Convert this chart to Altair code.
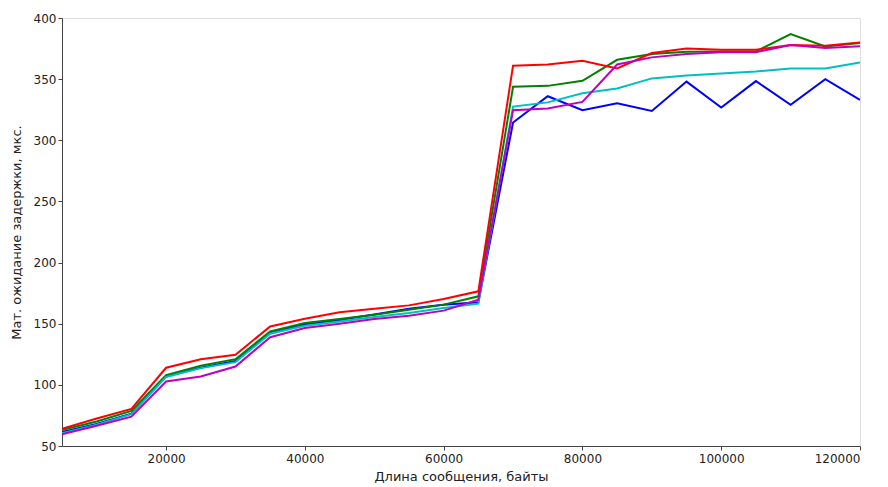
import altair as alt
import pandas as pd

x_values = [5000, 10000, 15000, 20000, 25000, 30000, 35000, 40000, 45000, 50000,
            55000, 60000, 65000, 70000, 75000, 80000, 85000, 90000, 95000, 100000,
            105000, 110000, 115000, 120000]

blue = [61.5, 68, 76.5, 107, 114, 119.5, 142.5, 149.5, 153, 157.6, 162.3, 165.6, 167.5,
        314.5, 336, 324.6, 330.3, 324, 348, 326.8, 348.4, 329, 350, 333]
green = [63, 70, 78.7, 108, 115.6, 121, 143.7, 150.5, 153.8, 157.4, 161.5, 165.6, 172.4,
         343.7, 344.5, 348.6, 365.8, 370.5, 372.4, 372.7, 372.7, 386.9, 376.7, 379.5]
red = [64, 72.5, 80.3, 114, 121, 124.6, 147.8, 154, 159.3, 162.3, 165, 170.2, 176.5,
       361, 362, 365, 358.7, 371.3, 375, 374, 374, 377.9, 377.3, 380]
cyan = [60.5, 67.5, 76, 106.5, 113.7, 118.6, 141.8, 148.4, 151.9, 155.5, 158.8, 162.9, 166.4,
        327.6, 331, 338.5, 342.3, 350.6, 353, 354.7, 356.3, 358.7, 358.7, 363.7]
magenta = [59.5, 66.5, 74, 102.7, 106.8, 115, 139, 146.5, 150, 153.8, 156.6, 160.7, 169.7,
           324.6, 326, 331.4, 362, 367.8, 370.5, 372, 372, 378, 375.4, 376.8]

series_names = ["b", "g", "r", "c", "m"]
series_values = [blue, green, red, cyan, magenta]
series_colors = ["#0000ff", "#008000", "#ff0000", "#00bfbf", "#bf00bf"]

x_ticks = [20000, 40000, 60000, 80000, 100000, 120000]
y_ticks = [50, 100, 150, 200, 250, 300, 350, 400]

rows = []
for i, (name, vals) in enumerate(zip(series_names, series_values)):
    for x, y in zip(x_values, vals):
        rows.append({"series": name, "order": i, "x": x, "y": y})
df = pd.DataFrame(rows)

chart = alt.Chart(df).mark_line(strokeWidth=2, clip=True).encode(
    x=alt.X("x:Q", scale=alt.Scale(domain=[5000, 120000], nice=False, zero=False),
            axis=alt.Axis(values=x_ticks, title="Длина сообщения, байты", grid=False,
                          format="d", labelFontSize=12, titleFontSize=13,
                          titleFontWeight="normal", labelColor="#222", titleColor="#222",
                          domainColor="#444", tickColor="#444", tickSize=4,
                          labelPadding=3, titlePadding=6, labelFont="DejaVu Sans",
                          titleFont="DejaVu Sans")),
    y=alt.Y("y:Q", scale=alt.Scale(domain=[50, 400], nice=False, zero=False),
            axis=alt.Axis(values=y_ticks, title="Мат. ожидание задержки, мкс.", grid=False,
                          labelFontSize=12, titleFontSize=13, titleFontWeight="normal",
                          labelColor="#222", titleColor="#222", domainColor="#444",
                          tickColor="#444", tickSize=4, labelPadding=2, titlePadding=10,
                          labelFont="DejaVu Sans", titleFont="DejaVu Sans")),
    color=alt.Color("series:N", scale=alt.Scale(domain=series_names, range=series_colors),
                    legend=None),
    order=alt.Order("order:Q"),
).properties(
    width=798, height=428,
    autosize=alt.AutoSizeParams(type="none"),
    padding={"left": 62, "top": 18, "right": 28, "bottom": 41},
).configure_view(stroke="#444", strokeWidth=1.2).configure(background="white")

chart.save("out.html", embed_options={"renderer": "svg", "actions": False})
